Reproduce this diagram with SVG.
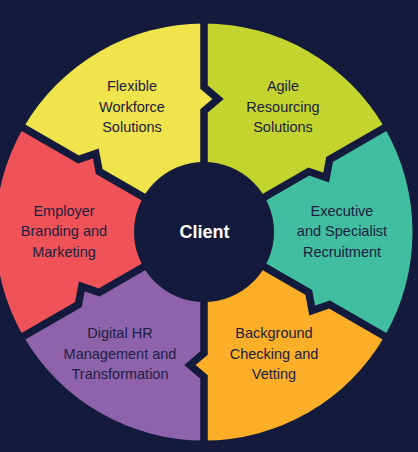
<svg xmlns="http://www.w3.org/2000/svg" width="418" height="452" viewBox="0 0 418 452">
  <style>
    .lbl { font-family: "Liberation Sans", Arial, sans-serif; font-size: 14.5px; fill: #1c2040; text-anchor: middle; }
    .ctr { font-family: "Liberation Sans", Arial, sans-serif; font-size: 18px; font-weight: bold; fill: #ffffff; text-anchor: middle; }
    .sep { fill: none; stroke: #131a3b; stroke-width: 7.5; stroke-linejoin: miter; stroke-miterlimit: 10; }
  </style>
  <rect width="418" height="452" fill="#131a3b"/>

  <g id="agile">
    <path fill="#c4d42f" d="M204,232 L308.79,171.5 L326.18,177.62 L329.57,159.5 L384.57,127.75 A208.5,208.5 0 0 0 204,23.5 L204,87 L218,99 L204,111 Z"/>
    <text class="lbl" x="283" y="91">Agile</text>
    <text class="lbl" x="283" y="112">Resourcing</text>
    <text class="lbl" x="283" y="132">Solutions</text>
  </g>
  <g id="flexible">
    <path fill="#efe44b" d="M204,232 L204,111 L218,99 L204,87 L204,23.5 A208.5,208.5 0 0 0 23.43,127.75 L78.43,159.5 L95.82,153.38 L99.21,171.5 Z"/>
    <text class="lbl" x="132" y="91">Flexible</text>
    <text class="lbl" x="132" y="112">Workforce</text>
    <text class="lbl" x="132" y="132">Solutions</text>
  </g>
  <g id="employer">
    <path fill="#ef5357" d="M204,232 L99.21,171.5 L95.82,153.38 L78.43,159.5 L23.43,127.75 A208.5,208.5 0 0 0 23.43,336.25 L78.43,304.5 L81.82,286.38 L99.21,292.5 Z"/>
    <text class="lbl" x="64" y="216">Employer</text>
    <text class="lbl" x="64" y="236">Branding and</text>
    <text class="lbl" x="64" y="257">Marketing</text>
  </g>
  <g id="digital">
    <path fill="#8f63ab" d="M204,232 L99.21,292.5 L81.82,286.38 L78.43,304.5 L23.43,336.25 A208.5,208.5 0 0 0 204,440.5 L204,377 L190,365 L204,353 Z"/>
    <text class="lbl" x="120" y="338">Digital HR</text>
    <text class="lbl" x="120" y="358.5">Management and</text>
    <text class="lbl" x="120" y="378.5">Transformation</text>
  </g>
  <g id="background">
    <path fill="#fbaf29" d="M204,232 L204,353 L190,365 L204,377 L204,440.5 A208.5,208.5 0 0 0 384.57,336.25 L329.57,304.5 L312.18,310.62 L308.79,292.5 Z"/>
    <text class="lbl" x="274" y="338">Background</text>
    <text class="lbl" x="274" y="358.5">Checking and</text>
    <text class="lbl" x="274" y="378.5">Vetting</text>
  </g>
  <g id="executive">
    <path fill="#41be9f" d="M204,232 L308.79,292.5 L312.18,310.62 L329.57,304.5 L384.57,336.25 A208.5,208.5 0 0 0 384.57,127.75 L329.57,159.5 L326.18,177.62 L308.79,171.5 Z"/>
    <text class="lbl" x="342" y="216">Executive</text>
    <text class="lbl" x="342" y="236">and Specialist</text>
    <text class="lbl" x="342" y="257">Recruitment</text>
  </g>

  <g id="connectors">
    <polyline class="sep" points="204,232 204,111 218,99 204,87 204,12"/>
    <polyline class="sep" points="204,232 308.79,171.5 326.18,177.62 329.57,159.5 394.53,122"/>
    <polyline class="sep" points="204,232 308.79,292.5 312.18,310.62 329.57,304.5 394.53,342"/>
    <polyline class="sep" points="204,232 204,353 190,365 204,377 204,452"/>
    <polyline class="sep" points="204,232 99.21,292.5 81.82,286.38 78.43,304.5 13.47,342"/>
    <polyline class="sep" points="204,232 99.21,171.5 95.82,153.38 78.43,159.5 13.47,122"/>
  </g>

  <g id="client">
    <circle cx="204" cy="232" r="70" fill="#131a3b"/>
    <text class="ctr" x="204.5" y="237.5">Client</text>
  </g>
</svg>
